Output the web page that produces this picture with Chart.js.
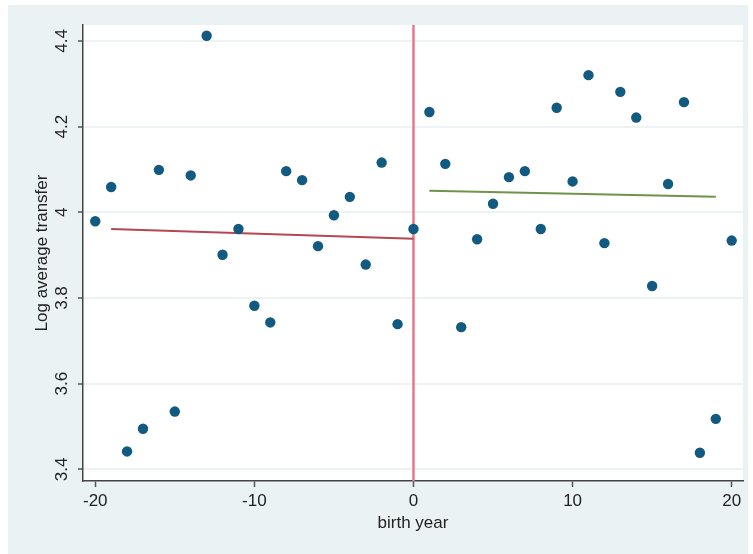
<!DOCTYPE html>
<html>
<head>
<meta charset="utf-8">
<script src="https://cdn.jsdelivr.net/npm/chart.js@4"></script>
<style>
  html, body { margin: 0; padding: 0; background: #ffffff; }
  canvas { display: block; }
</style>
</head>
<body>
<canvas id="grafico" width="753" height="554"></canvas>
<script>
// birth year relative to cutoff, and log average transfer per cohort
let birthYear = [-20, -19, -18, -17, -16, -15, -14, -13, -12, -11, -10, -9, -8, -7, -6, -5, -4, -3, -2, -1,
                 0, 1, 2, 3, 4, 5, 6, 7, 8, 9, 10, 11, 12, 13, 14, 15, 16, 17, 18, 19, 20];
let logTransfer = [3.979, 4.059, 3.442, 3.495, 4.099, 3.535, 4.086, 4.412, 3.901, 3.961,
                   3.782, 3.743, 4.096, 4.075, 3.921, 3.993, 4.036, 3.878, 4.116, 3.739,
                   3.961, 4.234, 4.113, 3.732, 3.937, 4.020, 4.082, 4.096, 3.961, 4.244,
                   4.072, 4.320, 3.928, 4.281, 4.221, 3.828, 4.066, 4.257, 3.439, 3.518, 3.934];

// linear fits on each side of the cutoff
let fitLeftX = [-19, 0];
let fitLeftY = [3.961, 3.938];
let fitRightX = [1, 19];
let fitRightY = [4.050, 4.036];

let cutoffX = [0, 0];
let xTicks = [-20, -10, 0, 10, 20];
let yTicks = [3.4, 3.6, 3.8, 4, 4.2, 4.4];
let xRange = [-20.77, 20.71];
let yRange = [3.373, 4.437];

let toPoints = (xs, ys) => xs.map((x, i) => ({ x: x, y: ys[i] }));

let fonte = '"Liberation Sans", Arial, Helvetica, sans-serif';

let fundo = {
    id: 'fundo',
    beforeDraw(chart) {
        let ctx = chart.ctx;
        let a = chart.chartArea;
        ctx.save();
        ctx.fillStyle = '#eaf2f3';
        ctx.fillRect(8, 5, 740, 549);
        ctx.fillStyle = '#ffffff';
        ctx.fillRect(a.left, a.top, a.right - a.left, a.bottom - a.top);
        ctx.restore();
    }
};

let grafico = document.getElementById('grafico').getContext('2d');

let chart = new Chart(grafico, {
    type: 'scatter',
    data: {
        datasets: [{
                label: 'Log average transfer',
                data: toPoints(birthYear, logTransfer),
                backgroundColor: '#125a80',
                borderColor: '#125a80',
                pointRadius: 5.2,
                pointBorderWidth: 0,
                order: 0
            },
            {
                type: 'line',
                label: 'fit left',
                data: toPoints(fitLeftX, fitLeftY),
                borderColor: '#b5474f',
                borderWidth: 2,
                pointRadius: 0,
                fill: false,
                order: 1
            },
            {
                type: 'line',
                label: 'fit right',
                data: toPoints(fitRightX, fitRightY),
                borderColor: '#6f9447',
                borderWidth: 2,
                pointRadius: 0,
                fill: false,
                order: 1
            },
            {
                type: 'line',
                label: 'cutoff',
                data: toPoints(cutoffX, yRange),
                borderColor: '#e8768c',
                borderWidth: 2.5,
                pointRadius: 0,
                fill: false,
                order: 2
            }
        ]
    },
    options: {
        responsive: false,
        animation: false,
        layout: { padding: { left: 0, top: 25, right: 10, bottom: 0 } },
        plugins: {
            legend: { display: false },
            tooltip: { enabled: false }
        },
        scales: {
            x: {
                type: 'linear',
                min: xRange[0],
                max: xRange[1],
                afterBuildTicks: s => { s.ticks = xTicks.map(v => ({ value: v })); },
                afterFit: s => { s.height = 73; },
                ticks: {
                    color: '#222222',
                    font: { family: fonte, size: 17 },
                    padding: 4,
                    maxRotation: 0,
                    callback: v => String(v)
                },
                grid: {
                    drawOnChartArea: false,
                    drawTicks: true,
                    tickLength: 6,
                    tickWidth: 1.5,
                    tickColor: '#555555'
                },
                border: { display: true, color: '#444444', width: 1.5 },
                title: {
                    display: true,
                    text: 'birth year',
                    color: '#222222',
                    font: { family: fonte, size: 17 },
                    padding: { top: 0, bottom: 20 }
                }
            },
            y: {
                type: 'linear',
                min: yRange[0],
                max: yRange[1],
                afterBuildTicks: s => { s.ticks = yTicks.map(v => ({ value: v })); },
                afterFit: s => { s.width = 83; },
                ticks: {
                    color: '#222222',
                    font: { family: fonte, size: 17 },
                    padding: 4,
                    minRotation: 90,
                    maxRotation: 90,
                    crossAlign: 'center',
                    callback: v => String(v)
                },
                grid: {
                    color: '#edf3f3',
                    lineWidth: 2,
                    drawTicks: true,
                    tickLength: 5,
                    tickWidth: 1.5,
                    tickColor: '#555555'
                },
                border: { display: true, color: '#444444', width: 1.5 },
                title: {
                    display: true,
                    text: 'Log average transfer',
                    color: '#222222',
                    font: { family: fonte, size: 17 },
                    padding: { top: 32, bottom: 0 }
                }
            }
        }
    },
    plugins: [fundo]
});
</script>
</body>
</html>
